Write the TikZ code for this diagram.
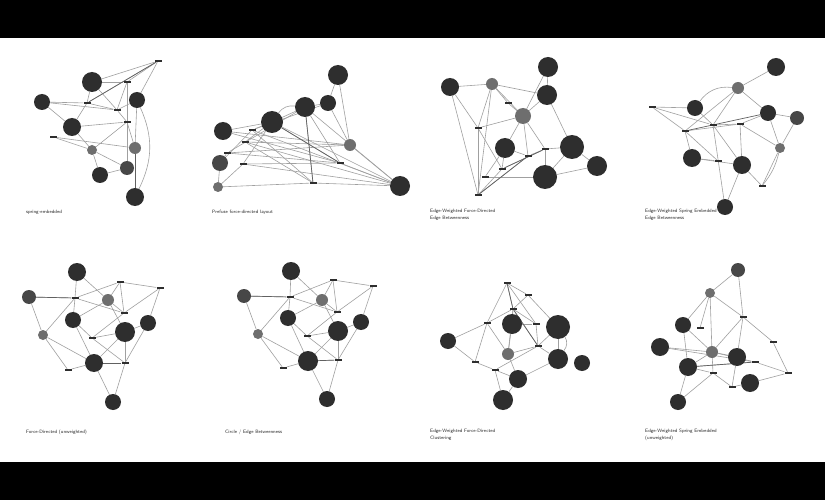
\documentclass[tikz,border=0pt]{standalone}
\usetikzlibrary{calc}
\pgfdeclarelayer{back}
\pgfdeclarelayer{edges}
\pgfsetlayers{back,edges,main}
\definecolor{nd}{HTML}{2E2E2E}
\definecolor{gnd}{HTML}{6E6E6E}
\definecolor{dgnd}{HTML}{474747}
\definecolor{edc}{HTML}{A0A0A0}
\begin{document}
\begin{tikzpicture}[x=1pt,y=-1pt,
  bn/.style={circle,fill=nd,draw=none,inner sep=0pt,minimum size=#1},
  dn/.style={circle,fill=dgnd,draw=none,inner sep=0pt,minimum size=#1},
  gn/.style={circle,fill=gnd,draw=none,inner sep=0pt,minimum size=#1},
  sn/.style={rectangle,fill=nd,draw=none,inner sep=0pt,minimum width=7pt,minimum height=2pt},
  ed/.style={draw=edc,line width=0.6pt},
  edk/.style={draw=black!62,line width=0.7pt},
  captxt/.style={font=\fontsize{4.8}{6.6}\selectfont\sffamily,inner sep=0pt,align=left,text=black!85}]
\begin{pgfonlayer}{back}
\fill[black] (0,0) rectangle (825,500);
\fill[white] (0,38) rectangle (825,462);
\end{pgfonlayer}
\useasboundingbox (0,0) rectangle (825,500);

% ---------- graph 1 ----------
\node[bn=20] (a1) at (92,82) {};
\node[bn=16] (a2) at (42,102) {};
\node[bn=18] (a3) at (72,127) {};
\node[bn=16] (a4) at (137,100) {};
\node[bn=16] (a5) at (100,175) {};
\node[dn=14] (a6) at (127,168) {};
\node[bn=18] (a7) at (135,197) {};
\node[gn=12] (ag1) at (135,148) {};
\node[gn=10] (ag2) at (92,150) {};
\node[sn] (as1) at (158,61) {};
\node[sn] (as2) at (87,103) {};
\node[sn] (as3) at (117,110) {};
\node[sn] (as4) at (127,122) {};
\node[sn] (as5) at (53,137) {};
\node[sn] (as6) at (127,82) {};
\begin{pgfonlayer}{edges}
\foreach \p/\q in {as1/a1,as1/as6,as1/a4,as1/as2,a1/as2,a1/as6,a2/as2,a2/a3,a2/as3,a3/as2,a3/ag2,a3/as4,as5/ag2,as5/ag1,ag2/a5,ag2/a6,ag2/as4,a5/a6,as6/a6,a4/ag1,ag1/a7,as3/as4,as3/a4,as4/ag1,as6/as3,as2/as3,a1/as3}
  \draw[ed] (\p) -- (\q);
\draw[edk] (as1) -- (as2);
\draw[edk] (ag1) -- (a7);
\draw[ed] (a4) to[bend left=25] (a7);
\end{pgfonlayer}
\node[captxt,anchor=west] (c1) at (26,212) {spring-embedded};

% ---------- graph 2 ----------
\node[bn=20] (b1) at (338,75) {};
\node[bn=20] (b2) at (305,107) {};
\node[bn=16] (b3) at (328,103) {};
\node[bn=22] (b4) at (272,122) {};
\node[bn=18] (b5) at (223,131) {};
\node[dn=16] (b6) at (220,163) {};
\node[bn=20] (b7) at (400,186) {};
\node[gn=12] (bg1) at (350,145) {};
\node[gn=10] (bg2) at (218,187) {};
\node[sn] (bs1) at (252,130) {};
\node[sn] (bs2) at (245,142) {};
\node[sn] (bs3) at (227,153) {};
\node[sn] (bs4) at (243,164) {};
\node[sn] (bs5) at (340,163) {};
\node[sn] (bs6) at (313,183) {};
\begin{pgfonlayer}{edges}
\foreach \p/\q in {b1/bg1,b1/b3,b2/b3,b2/b4,b2/bs5,b2/bs6,b2/b7,b3/bg1,b4/b5,b4/bs1,b4/bs2,b4/bs5,b5/bg1,bs1/b7,bs2/b7,bs3/bg1,bs4/bs5,b6/bg2,b6/bs3,bg2/bs6,bg2/bs4,bs6/b7,bg1/b7,bs5/b7,b6/bs1,bs2/bs6,b4/bs4,bs3/bs5,b2/bs3,b5/bs5,bs1/bs6,b4/b7,bs2/bg1,bs4/b7,b3/bs1}
  \draw[ed] (\p) -- (\q);
\draw[edk] (b4) -- (bs5);
\draw[edk] (b2) -- (bs6);
\draw[ed] (b4) to[bend left=30] (b2);
\end{pgfonlayer}
\node[captxt,anchor=west] (c2) at (212,212) {Prefuse force-directed layout};

% ---------- graph 3 ----------
\node[bn=20] (c1n) at (548,67) {};
\node[bn=20] (c2n) at (547,95) {};
\node[bn=18] (c3n) at (450,87) {};
\node[bn=24] (c4n) at (572,147) {};
\node[bn=20] (c5n) at (505,148) {};
\node[bn=24] (c6n) at (545,177) {};
\node[bn=20] (c7n) at (597,166) {};
\node[gn=12] (cg1) at (492,84) {};
\node[gn=16] (cg2) at (523,116) {};
\node[sn] (cs1) at (508,103) {};
\node[sn] (cs2) at (478,128) {};
\node[sn] (cs3) at (545,149) {};
\node[sn] (cs4) at (528,156) {};
\node[sn] (cs5) at (502,169) {};
\node[sn] (cs6) at (485,177) {};
\node[sn] (cs7) at (478,195) {};
\begin{pgfonlayer}{edges}
\foreach \p/\q in {c3n/cg1,cg1/c2n,c3n/cs2,cg1/cs1,cg1/cg2,cg1/cs2,c1n/c2n,c1n/cg2,c2n/c4n,c2n/cg2,cg2/c5n,cg2/cs3,cg2/cs4,cs2/cg2,cs2/cs5,c5n/cs5,cs3/c4n,cs3/c6n,c4n/c7n,c6n/c7n,c4n/c6n,cs6/c6n,cs7/cs4,cs7/cs2,cs1/cg2,c5n/cs4,cs4/cs3,cs5/cs3,cs7/cs5,c3n/cs7,cs6/c5n,cg1/cs7}
  \draw[ed] (\p) -- (\q);
\draw[edk] (cs5) -- (cs3);
\draw[edk] (cs7) -- (cs4);
\end{pgfonlayer}
\node[captxt,anchor=north west] (c3) at (430,209) {Edge-Weighted Force-Directed\\Edge Betweenness};

% ---------- graph 4 ----------
\node[bn=18] (d1) at (776,67) {};
\node[bn=16] (d2) at (695,108) {};
\node[bn=16] (d3) at (768,113) {};
\node[dn=14] (d4) at (797,118) {};
\node[bn=18] (d5) at (692,158) {};
\node[bn=18] (d6) at (742,165) {};
\node[bn=16] (d7) at (725,207) {};
\node[gn=12] (dg1) at (738,88) {};
\node[gn=10] (dg2) at (780,148) {};
\node[sn] (ds1) at (652,107) {};
\node[sn] (ds2) at (685,131) {};
\node[sn] (ds3) at (713,125) {};
\node[sn] (ds4) at (740,124) {};
\node[sn] (ds5) at (718,161) {};
\node[sn] (ds6) at (762,186) {};
\begin{pgfonlayer}{edges}
\foreach \p/\q in {d1/dg1,dg1/d3,dg1/ds3,dg1/ds2,ds1/d2,ds1/ds3,ds1/ds2,d2/ds3,d3/d4,d3/ds4,d3/dg2,d4/dg2,ds2/ds4,ds2/d5,ds2/ds5,ds3/d6,ds3/d7,d5/d6,d5/ds5,d6/d7,d6/ds6,dg2/ds6,dg2/ds4,ds4/d6,ds3/ds4}
  \draw[ed] (\p) -- (\q);
\draw[ed] (dg1) to[bend right=30] (d2);
\draw[ed] (dg2) to[bend left=12] (ds6);
\draw[edk] (ds2) -- (d3);
\end{pgfonlayer}
\node[captxt,anchor=north west] (c4) at (645,209) {Edge-Weighted Spring Embedded\\Edge Betweenness};

% ---------- graph 5 ----------
\node[bn=18] (e1) at (77,272) {};
\node[dn=14] (e2) at (29,297) {};
\node[gn=12] (e3) at (108,300) {};
\node[bn=16] (e4) at (73,320) {};
\node[bn=20] (e5) at (125,332) {};
\node[bn=16] (e6) at (148,323) {};
\node[bn=18] (e7) at (94,363) {};
\node[bn=16] (e8) at (113,402) {};
\node[gn=10] (eg1) at (43,335) {};
\node[sn] (es1) at (75,298) {};
\node[sn] (es2) at (120,282) {};
\node[sn] (es3) at (160,288) {};
\node[sn] (es4) at (124,313) {};
\node[sn] (es5) at (92,338) {};
\node[sn] (es6) at (125,363) {};
\node[sn] (es7) at (68,370) {};
\begin{pgfonlayer}{edges}
\foreach \p/\q in {e1/es1,e1/e3,e2/es1,e2/eg1,es1/e4,es1/es4,es1/eg1,e3/es2,e3/e4,es2/es3,es2/es4,es3/e6,es3/es4,e4/e7,eg1/e7,eg1/es7,e5/e7,e5/es5,e5/es6,e6/es6,e7/es6,e7/e8,es6/e8,es5/es4,es7/e7,e6/e5,e3/es4,e4/es5,es5/es6,e3/e5,es1/es2}
  \draw[ed] (\p) -- (\q);
\draw[edk] (e2) -- (es1);
\draw[edk] (e7) -- (es6);
\end{pgfonlayer}
\node[captxt,anchor=west] (c5) at (26,432) {Force-Directed (unweighted)};

% ---------- graph 6 ----------
\node[bn=18] (f1) at (291,271) {};
\node[dn=14] (f2) at (244,296) {};
\node[gn=12] (f3) at (322,300) {};
\node[bn=16] (f4) at (288,318) {};
\node[bn=20] (f5) at (338,331) {};
\node[bn=16] (f6) at (361,322) {};
\node[bn=20] (f7) at (308,361) {};
\node[bn=16] (f8) at (327,399) {};
\node[gn=10] (fg1) at (258,334) {};
\node[sn] (fs1) at (290,297) {};
\node[sn] (fs2) at (333,280) {};
\node[sn] (fs3) at (373,286) {};
\node[sn] (fs4) at (337,312) {};
\node[sn] (fs5) at (307,336) {};
\node[sn] (fs6) at (338,360) {};
\node[sn] (fs7) at (283,368) {};
\begin{pgfonlayer}{edges}
\foreach \p/\q in {f1/fs1,f1/f3,f2/fs1,f2/fg1,fs1/f4,fs1/fs4,fs1/fg1,f3/fs2,f3/f4,fs2/fs3,fs2/fs4,fs3/f6,fs3/fs4,f4/f7,fg1/f7,fg1/fs7,f5/f7,f5/fs5,f5/fs6,f6/fs6,f7/fs6,f7/f8,fs6/f8,fs5/fs4,fs7/f7,f6/f5,f3/fs4,f4/fs5,fs5/fs6,f3/f5,fs1/fs2}
  \draw[ed] (\p) -- (\q);
\draw[edk] (f2) -- (fs1);
\draw[edk] (f7) -- (fs6);
\end{pgfonlayer}
\node[captxt,anchor=west] (c6) at (225,432) {Circle / Edge Betweenness};

% ---------- graph 7 ----------
\node[bn=20] (h1) at (512,324) {};
\node[bn=24] (h2) at (558,327) {};
\node[bn=16] (h3) at (448,341) {};
\node[bn=20] (h4) at (558,359) {};
\node[bn=16] (h5) at (582,363) {};
\node[bn=18] (h6) at (518,379) {};
\node[bn=20] (h7) at (503,400) {};
\node[gn=12] (hg1) at (508,354) {};
\node[sn] (hs1) at (507,283) {};
\node[sn] (hs2) at (528,295) {};
\node[sn] (hs3) at (513,309) {};
\node[sn] (hs4) at (487,323) {};
\node[sn] (hs5) at (536,324) {};
\node[sn] (hs6) at (538,346) {};
\node[sn] (hs7) at (475,362) {};
\node[sn] (hs8) at (495,370) {};
\begin{pgfonlayer}{edges}
\foreach \p/\q in {hs1/hs2,hs1/hs3,hs1/hs4,hs2/h2,hs2/hs3,hs3/h1,hs3/hs4,hs3/hs5,h3/hs4,h3/hs7,hs4/hg1,hs4/hs7,h1/hg1,h1/hs5,hs5/hs6,hs6/h2,hs6/h4,hg1/h6,hg1/hs6,hs7/hs8,hs8/hs6,hs8/h6,h6/h7,h6/h4,h2/h4,hs8/h7,hs3/hs6,hs1/hs5,hg1/hs3}
  \draw[ed] (\p) -- (\q);
\draw[edk] (hs1) -- (hs3);
\draw[edk] (hs3) -- (hs6);
\draw[ed] (h2) to[bend left=35] (h4);
\end{pgfonlayer}
\node[captxt,anchor=north west] (c7) at (430,429) {Edge-Weighted Force-Directed\\Clustering};

% ---------- graph 8 ----------
\node[dn=14] (i1) at (738,270) {};
\node[gn=10] (i2) at (710,293) {};
\node[bn=16] (i3) at (683,325) {};
\node[bn=18] (i4) at (660,347) {};
\node[bn=18] (i5) at (688,367) {};
\node[gn=12] (i6) at (712,352) {};
\node[bn=18] (i7) at (737,357) {};
\node[bn=18] (i8) at (750,383) {};
\node[bn=16] (i9) at (678,402) {};
\node[sn] (is1) at (743,317) {};
\node[sn] (is2) at (700,328) {};
\node[sn] (is3) at (773,342) {};
\node[sn] (is4) at (788,373) {};
\node[sn] (is5) at (713,373) {};
\node[sn] (is6) at (755,362) {};
\node[sn] (is7) at (732,387) {};
\begin{pgfonlayer}{edges}
\foreach \p/\q in {i1/i2,i1/is1,i2/is1,i2/i3,i2/is2,i2/i6,i3/i6,i4/i6,i5/is5,i5/i6,i6/is1,i6/i7,i6/is6,is1/is3,is1/i7,is3/is4,is4/is6,is4/i8,i7/is7,is5/is7,is5/i9,i9/i5,i8/is7,i6/is5,i3/i5,i5/is6,i4/is6}
  \draw[ed] (\p) -- (\q);
\draw[edk] (i5) -- (is6);
\end{pgfonlayer}
\node[captxt,anchor=north west] (c8) at (645,429) {Edge-Weighted Spring Embedded\\(unweighted)};
\end{tikzpicture}
\end{document}
